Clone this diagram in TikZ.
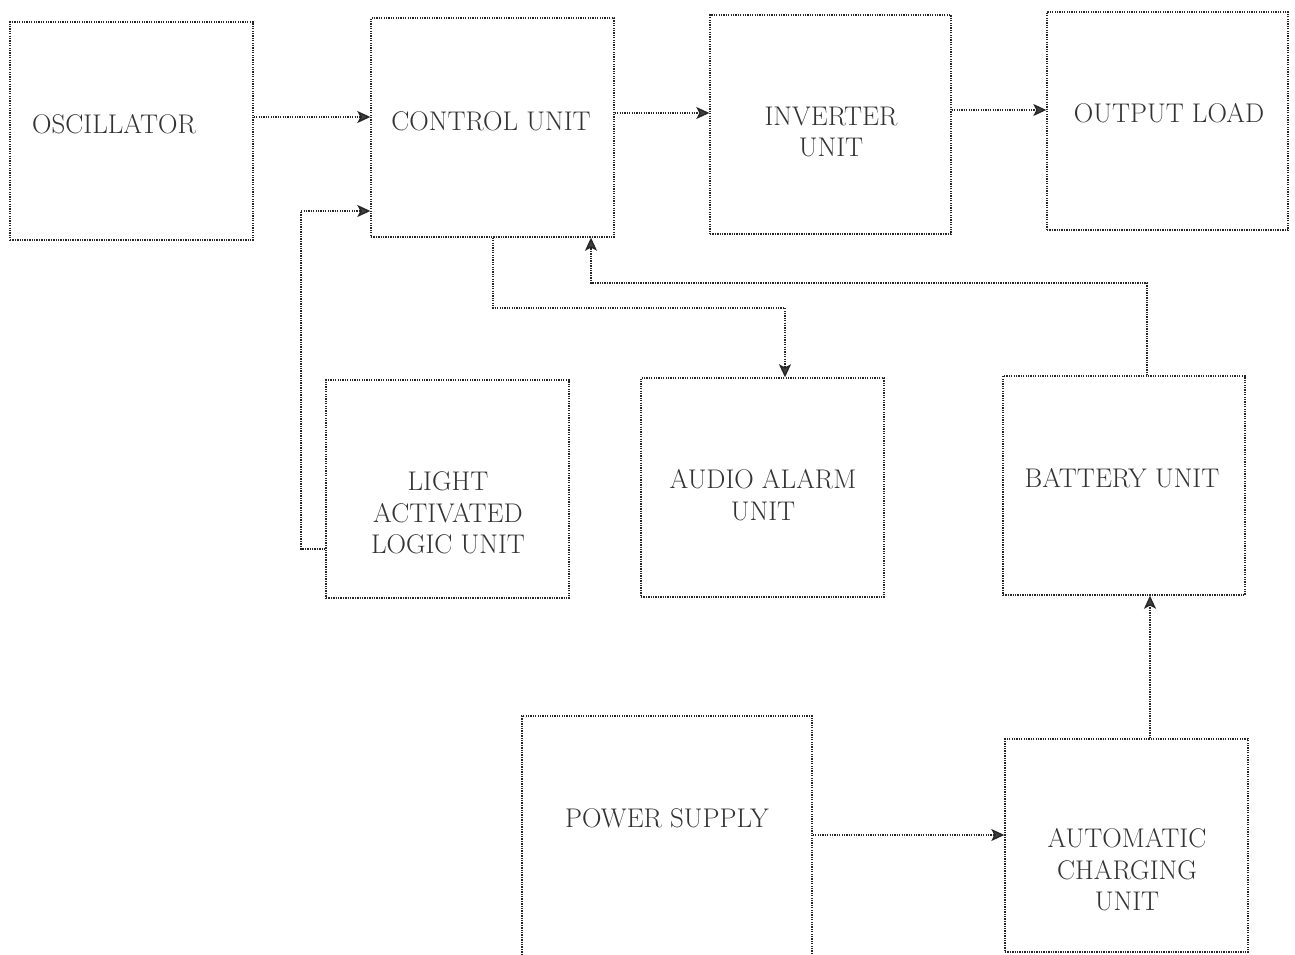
\documentclass[tikz,border=0pt]{standalone}
\usetikzlibrary{arrows.meta}
\begin{document}
\begin{tikzpicture}[x=1pt,y=-1pt,
  box/.style={draw=black!85, line width=1.4pt, dash pattern=on 1.3pt off 1.1pt, inner sep=0pt},
  txt/.style={text=black!80, font=\fontsize{27}{31.5}\selectfont, align=center, inner sep=0pt},
  conn/.style={draw=black!85, line width=1.4pt, dash pattern=on 1.3pt off 1.1pt, -{Stealth[length=13pt,width=12pt,inset=3pt,fill=black!75]}}]
\useasboundingbox (0,0) rectangle (1295,955);
\clip (0,0) rectangle (1295,955);
% boxes
\node[box, minimum width=243pt, minimum height=218pt] (osc)  at (131.5,131) {};
\node[box, minimum width=243pt, minimum height=219pt] (ctrl) at (492.5,127.5) {};
\node[box, minimum width=241pt, minimum height=219pt] (inv)  at (830.5,124.5) {};
\node[box, minimum width=241pt, minimum height=218pt] (out)  at (1167.5,121) {};
\node[box, minimum width=243pt, minimum height=218pt] (light) at (447.5,489) {};
\node[box, minimum width=243pt, minimum height=219pt] (alarm) at (762.5,487.5) {};
\node[box, minimum width=242pt, minimum height=219pt] (bat)  at (1124,485.5) {};
\node[box, minimum width=290pt, minimum height=260pt] (psu)  at (667,846) {};
\node[box, minimum width=243pt, minimum height=213pt] (chg)  at (1126.5,845.5) {};
% texts
\node[txt] (oscT)  at (114,124) {OSCILLATOR};
\node[txt] (ctrlT) at (491,121) {CONTROL UNIT};
\node[txt] (invT)  at (831,132) {INVERTER\\UNIT};
\node[txt] (outT)  at (1169,113) {OUTPUT LOAD};
\node[txt] (lightT) at (448,513) {LIGHT\\ACTIVATED\\LOGIC UNIT};
\node[txt] (alarmT) at (763,495) {AUDIO ALARM\\UNIT};
\node[txt] (batT)  at (1122,478) {BATTERY UNIT};
\node[txt] (psuT)  at (667,818) {POWER SUPPLY};
\node[txt] (chgT)  at (1127,870) {AUTOMATIC\\CHARGING\\UNIT};
% connection points
\coordinate (a1) at (301,549);
\coordinate (a2) at (301,211);
\coordinate (b1) at (493,308);
\coordinate (b2) at (785,308);
\coordinate (c1) at (1147,283);
\coordinate (c2) at (591,283);
% connectors
\draw[conn] (osc.east |- 0,117) -- (ctrl.west |- 0,117);
\draw[conn] (light.west |- a1) -- (a1) -- (a2) -- (ctrl.west |- a2);
\draw[conn] (ctrl.south -| b1) -- (b1) -- (b2) -- (alarm.north -| b2);
\draw[conn] (bat.north -| c1) -- (c1) -- (c2) -- (ctrl.south -| c2);
\draw[conn] (ctrl.east |- 0,113) -- (inv.west |- 0,113);
\draw[conn] (inv.east |- 0,110) -- (out.west |- 0,110);
\draw[conn] (psu.east |- 0,835) -- (chg.west |- 0,835);
\draw[conn] (chg.north -| 1150,0) -- (bat.south -| 1150,0);
\end{tikzpicture}
\end{document}
